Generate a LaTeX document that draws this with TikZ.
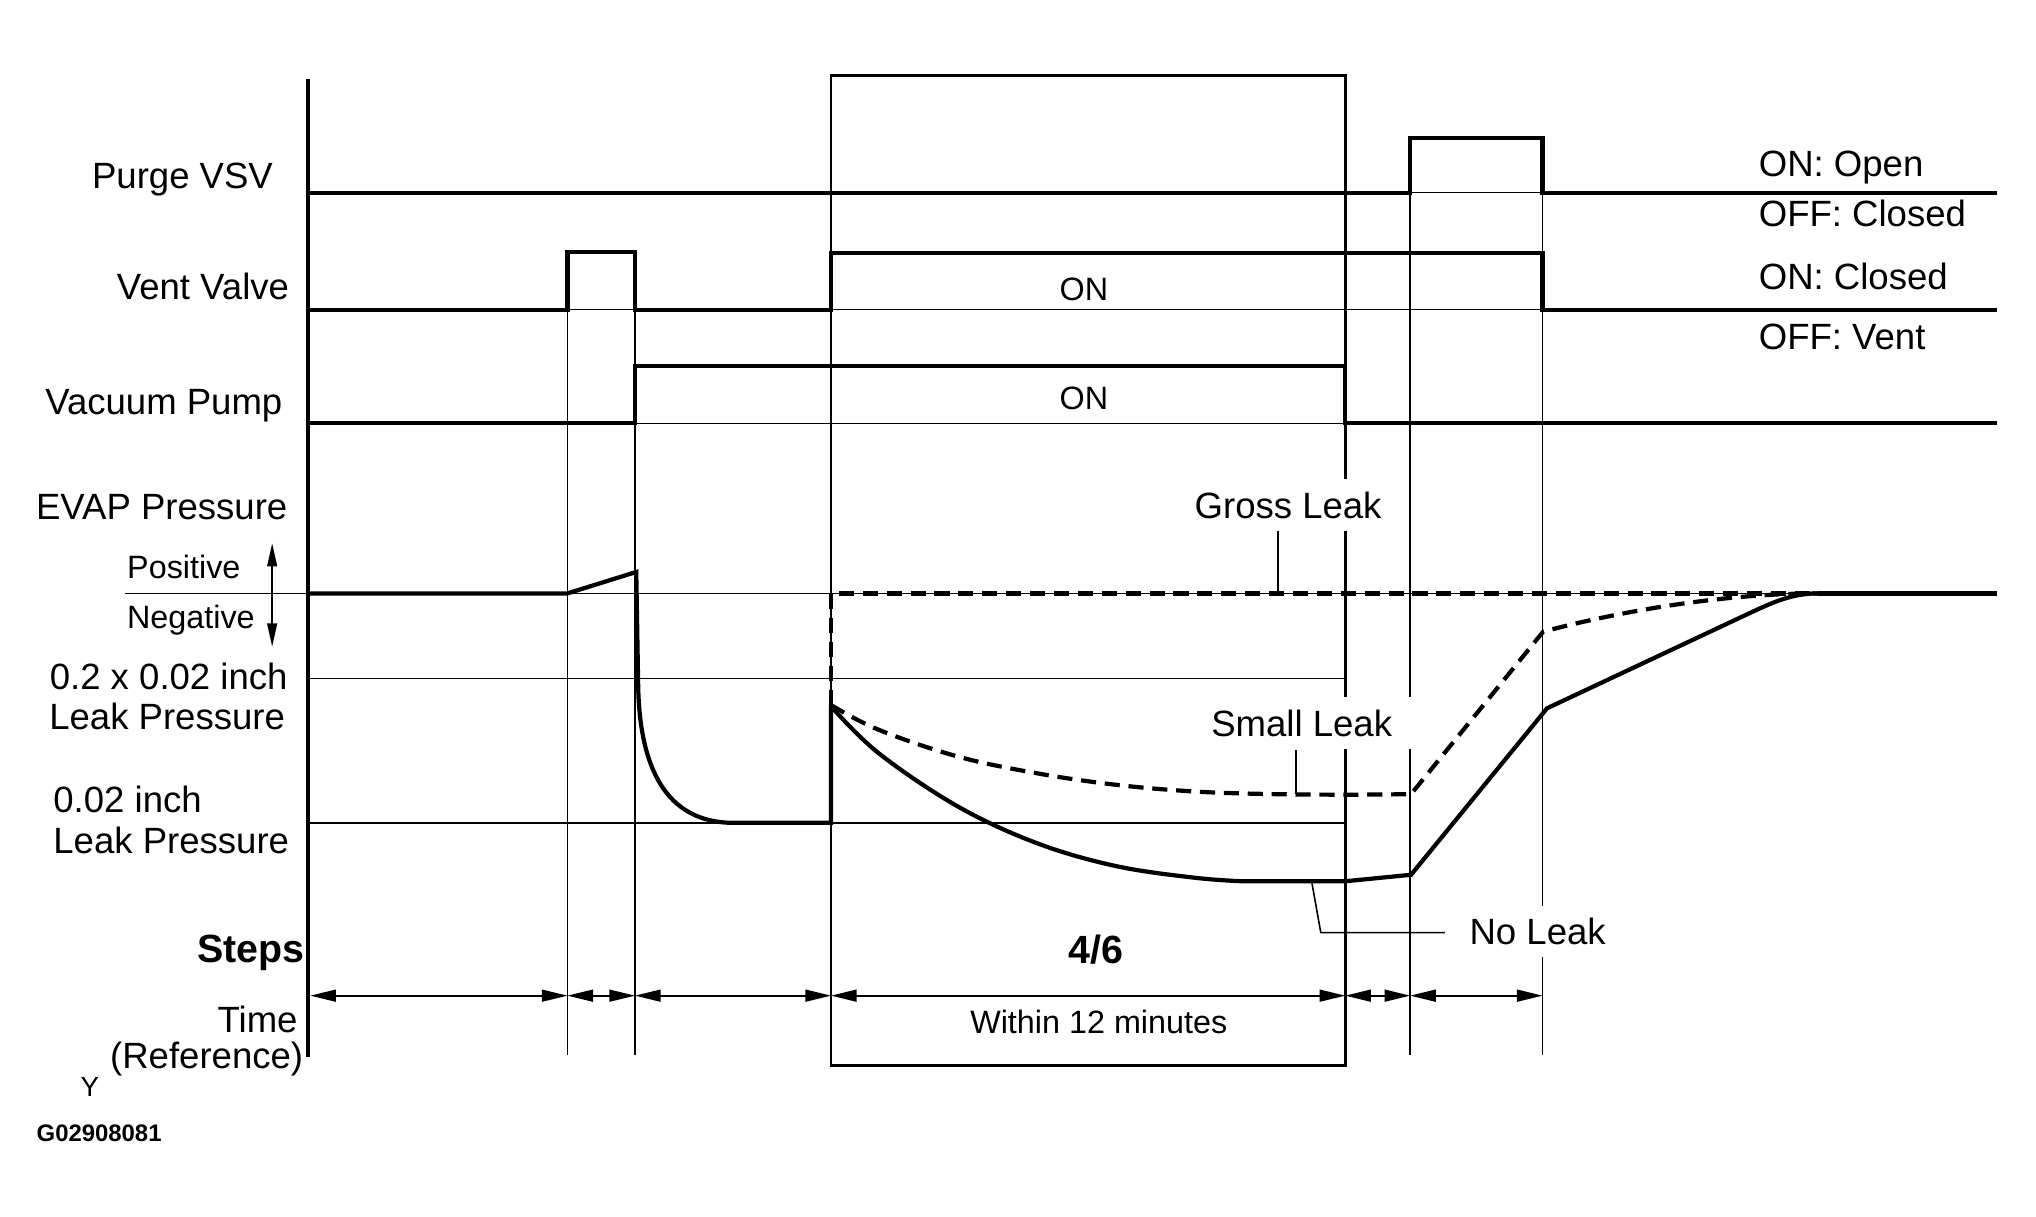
\documentclass[tikz,border=0pt]{standalone}
\usepackage{fontspec}
\setmainfont{Liberation Sans}
\usetikzlibrary{arrows.meta}

\tikzset{
  signal/.style={line width=1.2pt},
  thinline/.style={line width=0.45pt},
  leakdash/.style={line width=1.2pt, dash pattern=on 4.3pt off 2.5pt},
  lbl/.style={inner sep=0pt, font=\fontsize{10.4pt}{12.5pt}\selectfont},
  minorlbl/.style={inner sep=0pt, font=\fontsize{9.2pt}{11pt}\selectfont},
  boldlbl/.style={inner sep=0pt, font=\fontsize{11.2pt}{13pt}\selectfont\bfseries},
  tag/.style={fill=white, inner xsep=3pt, inner ysep=3.5pt, font=\fontsize{10.4pt}{12.5pt}\selectfont},
  span/.style={line width=0.5pt, {Triangle[length=7.3pt,width=3.4pt]}-{Triangle[length=7.3pt,width=3.4pt]}},
}

\begin{document}
\begin{tikzpicture}[x=0.012985cm, y=-0.012985cm]
\useasboundingbox (0,0) rectangle (1568,937.25);
% step marks
    \draw[thinline] (437,194) -- (437,812.5);
    \draw[thinline] (489,194) -- (489,812.5);
    \draw[thinline] (1086,106.5) -- (1086,812.5);
    \draw[thinline] (1188,106.5) -- (1188,812.5);
    \draw[line width=0.8pt] (640,58) rectangle (1036,820.7);
    % base lines
    \draw[thinline] (237,148.4) -- (1538,148.4);
    \draw[thinline] (237,238.5) -- (1538,238.5);
    \draw[thinline] (237,326) -- (1538,326);
    \draw[thinline] (96,457) -- (1538,457);
    \draw[thinline] (237,522.4) -- (1036,522.4);
    \draw[thinline] (237,633.7) -- (1036,633.7);
    % draw axis
    \draw[signal] (237,61) -- (237,813.8);
    %draw signals
    \draw[signal] (237,148.4) -- (1086,148.4) -- (1086,106.5) -- (1188,106.5) -- (1188,148.4) -- (1538,148.4);
    \draw[signal] (237,238.5) -- (437,238.5) -- (437,194) -- (489,194) -- (489,238.5) -- (640,238.5)
        -- (640,195) -- (1188,195) -- (1188,238.5) -- (1538,238.5);
    \draw[signal] (237,326) -- (489,326) -- (489,281.6) -- (1036,281.6) -- (1036,326) -- (1538,326);
    % evap pressure
    \draw[signal] (237,457) -- (437,457) -- (490,440.5) -- (491.5,530)
        .. controls (493,590) and (512,633.7) .. (565,633.7)
        -- (640,633.7) -- (640,543);
    \draw[leakdash] (640,543) -- (640,457) -- (1400,457);
    \draw[signal] (1400,457) -- (1538,457);
    \draw[leakdash] plot[smooth, tension=0.6] coordinates {(640,543) (676.6,562) (737.5,582.6) (798.4,595.5) (859.4,604.4) (920.3,609.6) (981.2,611.6) (1042,612) (1086.7,611.6)}
        -- (1188.4,486.5) .. controls (1250,470) and (1330,457) .. (1400,457);
    \draw[signal] plot[smooth, tension=0.6] coordinates {(640,544) (676.6,580) (737.5,621) (798.4,649.3) (859.4,667) (920.3,676) (956.9,678.7)}
        -- (1036,678.7) -- (1086.7,673.7) -- (1191.4,545.5) -- (1347,472.4) .. controls (1365,464) and (1380,457) .. (1400,457);
    % time spans
    \foreach \a/\b in {239/437, 437/489, 489/640, 640/1036, 1036/1086, 1086/1188}
        \draw[span] (\a,766.8) -- (\b,766.8);
    \draw[line width=0.5pt, {Triangle[length=6.6pt,width=2.8pt]}-{Triangle[length=6.6pt,width=2.8pt]}] (209.6,418.4) -- (209.6,498);
    % labels
    \node[lbl, anchor=base east] (purge) at (210.7,144.9) {Purge VSV};
    \node[lbl, anchor=base east] (vent) at (223.1,230.9) {Vent Valve};
    \node[lbl, anchor=base east] (pump) at (218,319.4) {Vacuum Pump};
    \node[lbl, anchor=base east] (evap) at (221.8,400.1) {EVAP Pressure};
    \node[minorlbl, anchor=base east] (pos) at (185.7,445.3) {Positive};
    \node[minorlbl, anchor=base east] (neg) at (196.7,483.8) {Negative};
    \node[lbl, anchor=base east] (smallp) at (222,531.2) {0.2 x 0.02 inch};
    \node[lbl, anchor=base east] (smallq) at (220,562) {Leak Pressure};
    \node[lbl, anchor=base west] (refp) at (40.6,626.1) {0.02 inch};
    \node[lbl, anchor=base west] (refq) at (40.6,657) {Leak Pressure};
    \node[boldlbl, anchor=base east] (steps) at (234.9,741.2) {Steps};
    \node[lbl, anchor=base east] (time) at (229.7,794.9) {Time};
    \node[lbl, anchor=base east] (ref) at (234,822.8) {(Reference)};
    \node[inner sep=0pt, font=\fontsize{7.9pt}{9pt}\selectfont, anchor=base west] (ymark) at (61.6,844.6) {Y};
    \node[inner sep=0pt, font=\fontsize{6.8pt}{8pt}\selectfont\bfseries, anchor=base west] (fig) at (27.7,879.4) {G02908081};
    \node[minorlbl, anchor=base] (venton) at (834.7,231.7) {ON};
    \node[minorlbl, anchor=base] (pumpon) at (834.7,315.7) {ON};
    \node[lbl, anchor=base west] (pon) at (1354,135.9) {ON: Open};
    \node[lbl, anchor=base west] (poff) at (1354,174.4) {OFF: Closed};
    \node[lbl, anchor=base west] (von) at (1354,223.1) {ON: Closed};
    \node[lbl, anchor=base west] (voff) at (1354,269.4) {OFF: Vent};
    \node[boldlbl, anchor=base] (stepno) at (844,742) {4/6};
    \node[minorlbl, anchor=base] (within) at (846.2,795.7) {Within 12 minutes};
    % leak tags
    \node[tag, anchor=base] (gross) at (992,399) {Gross Leak};
    \node[tag, anchor=base, inner xsep=6pt] (small) at (1002.5,567) {Small Leak};
    \node[tag, anchor=base] (noleak) at (1184.2,727.6) {No Leak};
    \coordinate (gl) at (984,457);
    \coordinate (sl) at (998,611.5);
    \coordinate (nl) at (1010.4,680.3);
    \coordinate (nk) at (1017.2,718.3);
    \draw[thinline] (gross.south -| gl) -- (gl);
    \draw[thinline] (small.south -| sl) -- (sl);
    \draw[thinline] (nl) -- (nk) -- ([xshift=-3.8pt]noleak.west |- nk);
\end{tikzpicture}
\end{document}
